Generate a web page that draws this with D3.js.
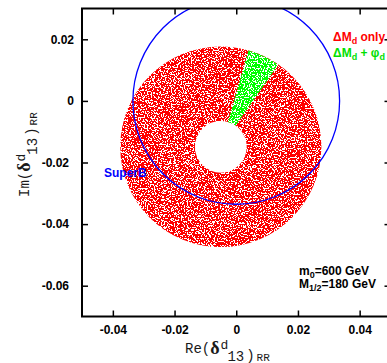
<!DOCTYPE html>
<html>
<head>
<meta charset="utf-8">
<script src="https://cdn.jsdelivr.net/npm/d3@7"></script>
<style>
  html, body { margin: 0; padding: 0; background: #fff; }
  svg { display: block; }
</style>
</head>
<body>
<svg id="chart" width="387" height="363"></svg>
<script>
// ---------------- data ----------------
const xDomain = [-0.05, 0.05];
const yDomain = [-0.07, 0.03];
const xTicks = [-0.04, -0.02, 0, 0.02, 0.04];
const xTickLabels = ["-0.04", "-0.02", "0", "0.02", "0.04"];
const yTicks = [-0.06, -0.04, -0.02, 0, 0.02];
const yTickLabels = ["-0.06", "-0.04", "-0.02", "0", "0.02"];

// allowed region from Delta M_d only (annulus): centre (Re, Im) and radii
const redCenter = [-0.005, -0.0149];
const redRadii = [0.0084, 0.0325];
// region allowed by Delta M_d + phi_d: sector of the same annulus (polar angle, degrees from +Re axis)
const greenAnglesDeg = [55, 74];
// SuperB sensitivity circle
const superBCenter = [0, 0];
const superBRadius = 0.0335;

const legendEntries = [
  { main: "\u0394M", sub: "d", rest: " only", color: "#ff0000" },
  { main: "\u0394M", sub: "d", rest: " +  \u03c6", sub2: "d", color: "#00e000" }
];
const paramLines = [
  { main: "m", sub: "0", rest: "=600 GeV" },
  { main: "M", sub: "1/2", rest: "=180 GeV" }
];

// ---------------- drawing ----------------
const svg = d3.select("#chart");
const W = 387, H = 363;
const plot = { left: 82, right: 390.5, top: 8.5, bottom: 316.5 };

const x = d3.scaleLinear().domain(xDomain).range([plot.left, plot.right]);
const y = d3.scaleLinear().domain(yDomain).range([plot.bottom, plot.top]);
const pxPerUnit = x(1) - x(0);

const defs = svg.append("defs");
defs.append("clipPath").attr("id", "plotClip")
  .append("rect")
  .attr("x", plot.left).attr("y", plot.top)
  .attr("width", plot.right - plot.left).attr("height", plot.bottom - plot.top);

const f = defs.append("filter").attr("id", "speckle")
  .attr("filterUnits", "userSpaceOnUse")
  .attr("x", 0).attr("y", 0).attr("width", W).attr("height", H)
  .attr("color-interpolation-filters", "sRGB");
f.append("feTurbulence").attr("type", "fractalNoise").attr("baseFrequency", 0.7)
  .attr("numOctaves", 2).attr("seed", 7).attr("result", "n");
f.append("feColorMatrix").attr("in", "n").attr("type", "matrix")
  .attr("values", "0 0 0 0 0  0 0 0 0 0  0 0 0 0 0  1 0 0 0 0").attr("result", "m");
f.append("feComponentTransfer").attr("in", "m").attr("result", "mask")
  .append("feFuncA").attr("type", "discrete")
  .attr("tableValues", "0 0 0 0 0 0 0 0 0 1 1 1 1 1 1 1 1 1 1 1");
f.append("feComposite").attr("in", "SourceGraphic").attr("in2", "mask").attr("operator", "in");

const g = svg.append("g").attr("clip-path", "url(#plotClip)");
const toRad = d => (90 - d) * Math.PI / 180; // polar (from +Re, ccw) -> d3 arc angle

const cx = x(redCenter[0]), cy = y(redCenter[1]);
const regions = g.append("g").attr("filter", "url(#speckle)");
regions.append("path")
  .attr("transform", `translate(${cx},${cy})`)
  .attr("d", d3.arc()({
    innerRadius: redRadii[0] * pxPerUnit, outerRadius: redRadii[1] * pxPerUnit,
    startAngle: 0, endAngle: 2 * Math.PI }))
  .attr("fill", "#ff0000");
regions.append("path")
  .attr("transform", `translate(${cx},${cy})`)
  .attr("d", d3.arc()({
    innerRadius: redRadii[0] * pxPerUnit, outerRadius: redRadii[1] * pxPerUnit,
    startAngle: toRad(greenAnglesDeg[1]), endAngle: toRad(greenAnglesDeg[0]) }))
  .attr("fill", "#00ff00");

g.append("circle")
  .attr("cx", x(superBCenter[0])).attr("cy", y(superBCenter[1]))
  .attr("r", superBRadius * pxPerUnit)
  .attr("fill", "none").attr("stroke", "#0000ff").attr("stroke-width", 1.3);

// axes
const tickFont = "bold 12px 'Liberation Sans', Arial, sans-serif";
function styleAxis(sel) {
  sel.select(".domain").remove();
  sel.selectAll(".tick line").attr("stroke", "#000").attr("stroke-width", 1.5);
  sel.selectAll(".tick text").style("font", tickFont).attr("fill", "#000");
}
const fmtX = d => xTickLabels[xTicks.indexOf(d)];
const fmtY = d => yTickLabels[yTicks.indexOf(d)];
svg.append("g").attr("transform", `translate(0,${plot.bottom})`)
  .call(d3.axisBottom(x).tickValues(xTicks).tickFormat(fmtX).tickSize(-6).tickPadding(9))
  .call(styleAxis);
svg.append("g").attr("transform", `translate(0,${plot.top})`)
  .call(d3.axisTop(x).tickValues(xTicks).tickFormat("").tickSize(-6))
  .call(styleAxis);
svg.append("g").attr("transform", `translate(${plot.left},0)`)
  .call(d3.axisLeft(y).tickValues(yTicks).tickFormat(fmtY).tickSize(-6).tickPadding(8))
  .call(styleAxis)
  .call(s => s.selectAll(".tick text").attr("dx", d => d < 0 ? -5 : 0));
svg.append("g").attr("transform", `translate(${plot.right},0)`)
  .call(d3.axisRight(y).tickValues(yTicks).tickFormat("").tickSize(-6))
  .call(styleAxis);

svg.append("rect")
  .attr("x", plot.left).attr("y", plot.top)
  .attr("width", plot.right - plot.left).attr("height", plot.bottom - plot.top)
  .attr("fill", "none").attr("stroke", "#000").attr("stroke-width", 2);

// axis titles: Re(δ^d_13)_RR and Im(δ^d_13)_RR
function axisTitle(parent, prefix) {
  const t = parent.append("text").attr("x", 0).attr("y", 0)
    .attr("fill", "#1a1a1a")
    .style("font-family", "'Liberation Mono', 'DejaVu Sans Mono', monospace")
    .style("font-size", "14px");
  t.append("tspan").text(prefix + "(");
  t.append("tspan").attr("dy", 1).style("font-family", "'Liberation Serif', serif")
    .style("font-weight", "bold").style("font-size", "18px").text("\u03b4");
  t.append("tspan").attr("dy", -5).attr("dx", 1).style("font-size", "13px").text("d");
  t.append("tspan").attr("dy", 12).attr("dx", -1).text("13");
  t.append("tspan").attr("dy", -1).attr("dx", 2).text(")");
  t.append("tspan").attr("dy", 1).attr("dx", 2).style("font-size", "11px").text("RR");
  return t;
}
axisTitle(svg.append("g").attr("transform", "translate(185,352.5)"), "Re");
axisTitle(svg.append("g").attr("transform", "translate(28.5,197) rotate(-90)"), "Im");

// legend
const legFont = "bold 12px 'Liberation Sans', Arial, sans-serif";
legendEntries.forEach((e, i) => {
  const t = svg.append("text").attr("x", 333).attr("y", 40.5 + i * 16.5)
    .attr("fill", e.color).style("font", legFont);
  t.append("tspan").text(e.main);
  t.append("tspan").attr("dy", 3).style("font-size", "9px").text(e.sub);
  t.append("tspan").attr("dy", -3).text(e.rest);
  if (e.sub2) t.append("tspan").attr("dy", 3).style("font-size", "9px").text(e.sub2);
});

// SuperB label
svg.append("text").attr("x", 104).attr("y", 177)
  .attr("fill", "#0000ff").style("font", "bold 12px 'Liberation Sans', Arial, sans-serif")
  .text("SuperB");

// parameter text
paramLines.forEach((p, i) => {
  const t = svg.append("text").attr("x", 299).attr("y", 274.5 + i * 13.5)
    .attr("fill", "#000").style("font", legFont);
  t.append("tspan").text(p.main);
  t.append("tspan").attr("dy", 3).style("font-size", "9px").text(p.sub);
  t.append("tspan").attr("dy", -3).text(p.rest);
});
</script>
</body>
</html>
